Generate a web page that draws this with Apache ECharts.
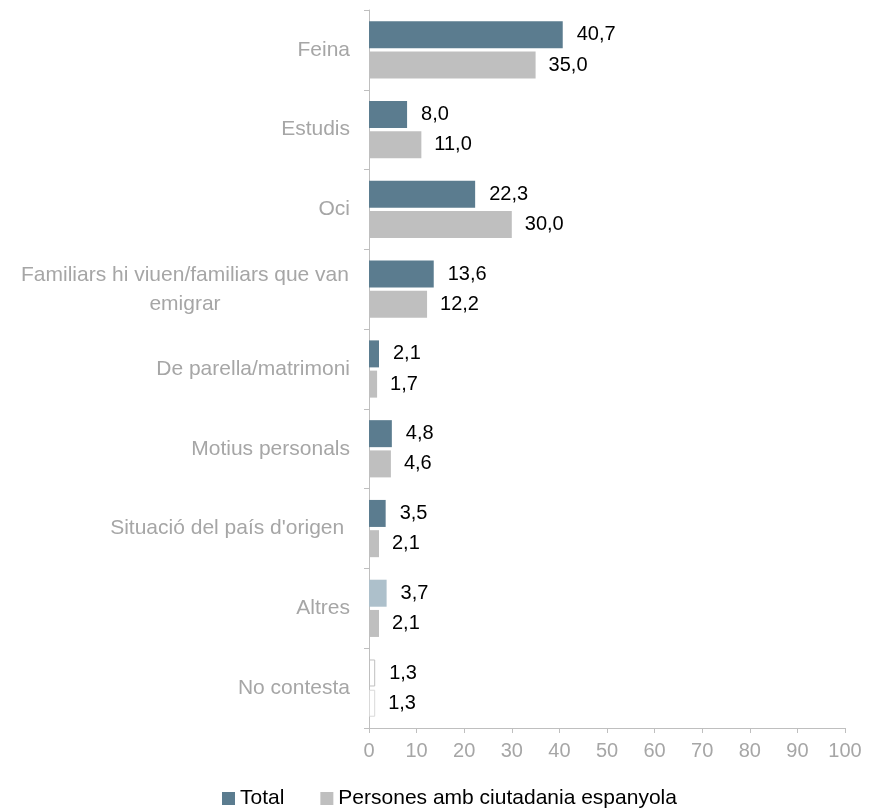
<!DOCTYPE html>
<html><head><meta charset="utf-8">
<script src="https://cdn.jsdelivr.net/npm/echarts@6/dist/echarts.min.js"></script>
<style>html,body{margin:0;padding:0;background:#fff}#c{width:880px;height:812px}</style>
</head><body><div id="c"></div>
<script>
var categories = ["Feina","Estudis","Oci","Familiars hi viuen/familiars que van\nemigrar","De parella/matrimoni","Motius personals","Situació del país d'origen ","Altres","No contesta"];
var totalValues = [40.7, 8.0, 22.3, 13.6, 2.1, 4.8, 3.5, 3.7, 1.3];
var spanishValues = [35.0, 11.0, 30.0, 12.2, 1.7, 4.6, 2.1, 2.1, 1.3];
var xTicks = [0,10,20,30,40,50,60,70,80,90,100];
var seriesNames = ["Total","Persones amb ciutadania espanyola"];

var FONT = 'Liberation Sans, Arial, sans-serif';
var fmt = function(p){ return p.value.toFixed(1).replace('.', ','); };
var totalData = totalValues.map(function(v,i){
  if (i === 7) return {value: v, itemStyle: {color: '#adc0cb'}};
  if (i === 8) return {value: v, itemStyle: {color: '#ffffff', borderColor: '#bfbfbf', borderWidth: 1}};
  return v;
});
var spanishData = spanishValues.map(function(v,i){
  if (i === 8) return {value: v, itemStyle: {color: '#ffffff', borderColor: '#d9d9d9', borderWidth: 1}};
  return v;
});
var chart = echarts.init(document.getElementById('c'));
chart.setOption({
  animation: false,
  textStyle: {fontFamily: FONT},
  grid: {left: 369, right: 35, top: 10, bottom: 84},
  legend: {
    top: 788, left: 222, itemWidth: 13, itemHeight: 13, itemGap: 36,
    icon: 'rect', padding: 0,
    textStyle: {fontSize: 21, color: '#000', fontFamily: FONT, padding: [0,0,0,0]},
    data: seriesNames
  },
  xAxis: {
    type: 'value', min: xTicks[0], max: xTicks[xTicks.length-1], interval: 10,
    axisLine: {show: true, lineStyle: {color: '#bfbfbf'}},
    axisTick: {show: true, length: 5, lineStyle: {color: '#bfbfbf'}},
    splitLine: {show: false},
    axisLabel: {fontSize: 20, color: '#a6a6a6', margin: 13, fontFamily: FONT}
  },
  yAxis: {
    type: 'category', data: categories, inverse: true,
    axisLine: {show: true, lineStyle: {color: '#bfbfbf'}},
    axisTick: {show: true, length: 5, lineStyle: {color: '#bfbfbf'}},
    axisLabel: {
      fontSize: 21, color: '#a6a6a6', margin: 19, lineHeight: 29, fontFamily: FONT,
      formatter: function(v){
        if (v.indexOf('\n') >= 0) {
          return v.split('\n').map(function(s){ return '{w|' + s + '}'; }).join('\n');
        }
        return v;
      },
      rich: {w: {width: 330, align: 'center', fontSize: 21, color: '#a6a6a6', lineHeight: 29, fontFamily: FONT}}
    }
  },
  series: [
    {name: seriesNames[0], type: 'bar', data: totalData, barWidth: 27, barGap: '12%',
     itemStyle: {color: '#5b7c8f'},
     label: {show: true, position: 'right', distance: 14, fontSize: 20, color: '#000', fontFamily: FONT, formatter: fmt}},
    {name: seriesNames[1], type: 'bar', data: spanishData, barWidth: 27,
     itemStyle: {color: '#bfbfbf'},
     label: {show: true, position: 'right', distance: 13, fontSize: 20, color: '#000', fontFamily: FONT, formatter: fmt}}
  ]
});
</script></body></html>
